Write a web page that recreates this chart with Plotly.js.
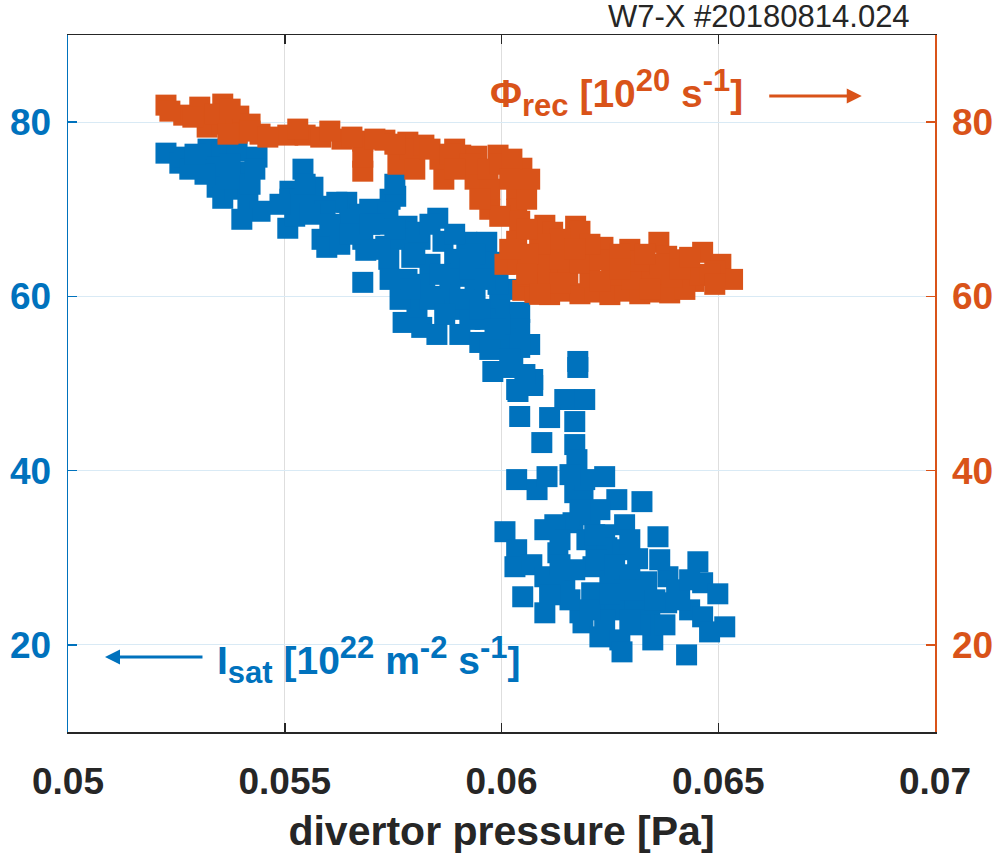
<!DOCTYPE html>
<html><head><meta charset="utf-8">
<script src="https://cdn.plot.ly/plotly-3.0.1.min.js"></script>
<style>html,body{margin:0;padding:0;background:#fff}#chart{width:996px;height:855px}</style>
</head><body><div id="chart"></div>
<script>
// divertor pressure [Pa] vs Isat [1e22 m^-2 s^-1] (left axis)
const pressureIsat = [
0.05226,0.05258,0.05267,0.05304,0.05323,0.05355,0.05344,0.05390,0.05436,0.05401,
0.05344,0.05357,0.05385,0.05415,0.05443,0.05401,0.05374,0.05512,0.05512,0.05542,
0.05565,0.05507,0.05523,0.05574,0.05586,0.05597,0.05632,0.05643,0.05620,0.05680,
0.05687,0.05743,0.05756,0.05726,0.05733,0.05782,0.05793,0.05673,0.05593,0.05535,
0.05696,0.05738,0.05708,0.05754,0.05650,0.05766,0.05812,0.05680,0.05627,0.05740,
0.05782,0.05807,0.05853,0.05865,0.05920,0.05966,0.05773,0.05816,0.05851,0.05904,
0.05950,0.05805,0.05862,0.05911,0.05973,0.05996,0.06042,0.06065,0.05980,0.06026,
0.06072,0.06035,0.05835,0.05892,0.05939,0.05892,0.05823,0.05962,0.06019,0.05927,
0.05881,0.05766,0.06042,0.06008,0.05992,0.05973,0.06042,0.06072,0.06038,0.06042,
0.06176,0.06176,0.06146,0.06192,0.06111,0.06169,0.06093,0.06169,0.06174,0.06035,
0.06082,0.06105,0.06238,0.06324,0.06266,0.06169,0.06188,0.06165,0.06238,0.06008,
0.06361,0.06035,0.06031,0.06070,0.06130,0.06100,0.06049,0.06100,0.06146,0.06197,
0.06243,0.06280,0.06314,0.06211,0.06208,0.06181,0.06188,0.06227,0.06273,0.06278,
0.06384,0.06404,0.06349,0.06434,0.06464,0.06453,0.06464,0.06499,0.06515,0.06480,
0.06427,0.06335,0.06381,0.06250,0.06296,0.06227,0.06261,0.06308,0.06342,0.06365,
0.06284,0.06319,0.06238,0.06158,0.06135,0.06204,0.06227,0.06123,0.06284,0.06192,
0.06158,0.06218,
0.05835,0.05892,0.05939,0.05800,0.05858,0.05927,0.05962,0.05835,0.05904,0.05869,
0.05996,0.05950,0.05789,0.05743,0.06019,0.05985,0.06054,
0.05558,0.05604,0.05650,0.05696,0.05547,0.05489,0.05754,0.05720,
0.05281,0.05316,0.05420,0.05431,0.05374,0.05293,
0.06261,0.06319,0.06354,0.06296,0.06204,0.06250,0.06169,0.06111,0.06215,0.06296,
0.06135,0.06411,0.06434,0.06377,0.06181,0.06100];
const isat = [
76.44,75.29,75.98,75.52,76.90,76.55,74.83,76.67,75.98,74.25,
72.53,71.26,72.30,71.15,69.77,68.85,73.45,72.07,71.15,74.60,
72.53,67.82,69.20,70.34,66.55,65.63,67.70,70.80,70.80,66.55,
65.29,71.15,71.49,69.66,65.75,68.05,64.48,69.43,69.77,71.15,
70.00,69.43,68.28,72.87,68.85,66.55,66.55,61.61,65.98,64.25,
61.95,67.36,68.97,66.32,66.21,66.21,57.01,56.44,55.63,55.63,
54.71,58.74,60.00,62.30,63.91,59.08,58.16,54.48,51.38,51.84,
50.46,49.31,63.68,64.25,60.80,58.51,61.38,57.36,60.80,57.36,
61.95,59.66,56.21,55.06,61.38,53.91,54.14,49.77,49.08,46.21,
51.84,52.53,48.16,48.16,46.09,45.63,43.22,42.99,41.26,38.97,
37.82,39.31,39.31,36.44,36.67,37.47,36.67,34.02,32.64,32.99,
32.41,30.92,28.97,29.20,30.57,27.82,25.52,23.68,27.13,32.07,
31.15,30.92,29.89,28.97,25.98,23.68,22.53,20.92,20.57,19.20,
27.82,26.32,20.57,24.02,23.22,29.54,27.13,25.86,22.07,21.49,
18.85,27.24,24.83,27.47,28.05,25.17,24.02,24.60,22.87,29.77,
26.32,22.30,22.87,25.17,29.20,34.94,35.52,33.79,33.79,38.97,
39.54,29.77,
68.28,67.13,64.83,64.83,62.53,63.10,61.95,59.66,59.66,57.93,
56.78,58.51,60.80,61.95,52.76,56.21,51.03,
69.43,68.28,67.13,68.28,72.87,70.57,67.70,65.40,
74.60,74.02,72.87,74.60,75.17,76.32,
29.20,26.32,25.17,22.87,24.02,25.86,28.62,25.75,32.64,32.07,
32.07,25.17,27.47,22.30,35.52,33.22];
// divertor pressure [Pa] vs Phi_rec [1e20 s^-1] (right axis)
const pressurePhi = [
0.05226,0.05267,0.05304,0.05357,0.05321,0.05394,0.05390,0.05443,0.05355,0.05420,
0.05507,0.05547,0.05583,0.05632,0.05680,0.05680,0.05680,0.05731,0.05761,0.05784,
0.05789,0.05821,0.05867,0.05858,0.05906,0.05943,0.05939,0.05992,0.05973,0.05973,
0.06047,0.06035,0.06035,0.05996,0.06042,0.06035,0.06008,0.06038,0.06049,0.06100,
0.06118,0.06171,0.06181,0.06234,0.06296,0.06363,0.06381,0.06464,0.06506,0.06533,
0.06444,0.06077,0.06111,0.06146,0.06181,0.06215,0.06250,0.06284,0.06319,0.06354,
0.06388,0.06423,0.06061,0.06107,0.06153,0.06204,0.06254,0.06301,0.06347,0.06393,
0.06457,0.06492,0.06088,0.06135,0.06181,0.06227,0.06273,0.06319,0.06365,0.06411,
0.06135,0.06204,0.06273,0.06088,0.06058,0.06065,0.06061,0.05800,0.05892,
0.05235,0.05288,0.05339,0.05374,0.05420,0.05461,0.05369,
0.05530,0.05604,0.05655,0.05708,0.05754,0.05835,0.05881,0.05927,0.05969,0.05996,
0.06024,0.05892,0.05950,0.06019,0.06058,0.06019,0.06058,
0.06227,0.06342,0.06135,0.06273,0.06411,0.06480,0.06169,0.06331,0.06434,0.06492,
0.06088];
const phiRec = [
81.95,80.80,81.72,82.07,79.43,80.69,78.73,78.62,79.77,79.77,
78.51,78.51,78.28,78.05,77.82,74.37,75.98,77.93,75.17,77.70,
76.90,77.36,73.45,75.75,76.21,76.09,73.45,76.21,70.00,72.30,
74.71,72.30,70.00,69.19,68.62,66.32,63.68,63.68,60.69,68.16,
67.36,68.05,67.47,65.63,65.40,66.21,64.60,65.06,63.68,61.95,
61.72,60.46,60.20,60.60,60.30,60.50,60.20,60.60,60.30,60.50,
60.40,60.80,62.30,62.10,62.50,62.20,62.40,62.00,62.60,62.20,
62.40,62.90,64.00,64.30,63.80,64.20,63.90,64.10,63.70,64.20,
66.55,65.98,64.83,65.98,71.15,73.45,64.83,74.60,76.90,
81.26,80.57,80.92,81.49,78.97,78.28,78.62,
79.20,78.97,78.28,78.05,77.47,76.90,76.32,75.17,74.60,75.17,
75.75,74.60,71.15,73.45,67.70,65.40,62.53,
61.72,60.80,61.49,63.10,63.10,62.53,65.40,64.83,64.48,61.38,
60.23];

const xTicks = [0.05,0.055,0.06,0.065,0.07];
const xTickLabels = ['0.05','0.055','0.06','0.065','0.07'];
const yTicks = [20,40,60,80];
const yTickLabels = ['20','40','60','80'];

const BLUE = '#0072BD', ORANGE = '#D95319', DARK = '#262626';
const FAM = "'Liberation Sans', Arial, Helvetica, sans-serif";
const S = (t) => "<span style='font-size:31px'>" + t + "</span>";

const traces = [
  {x: pressureIsat, y: isat, type: 'scatter', mode: 'markers', yaxis: 'y',
   marker: {symbol: 'square', size: 21, color: BLUE, line: {width: 0}}, hoverinfo: 'skip'},
  {x: pressurePhi, y: phiRec, type: 'scatter', mode: 'markers', yaxis: 'y2',
   marker: {symbol: 'square', size: 21, color: ORANGE, line: {width: 0}}, hoverinfo: 'skip'}
];

const layout = {
  width: 996, height: 855,
  margin: {l: 68, r: 61, t: 35, b: 123, pad: 0},
  paper_bgcolor: '#fff', plot_bgcolor: '#fff',
  showlegend: false,
  font: {family: FAM},
  xaxis: {
    range: [0.05, 0.07], tickvals: xTicks, ticktext: xTickLabels,
    showline: true, linecolor: DARK, linewidth: 1.5, mirror: 'ticks',
    ticks: 'inside', ticklen: 9, tickwidth: 1.5, tickcolor: DARK,
    showgrid: true, gridcolor: '#DEDEDE', gridwidth: 1, zeroline: false,
    tickfont: {family: FAM, size: 37, color: DARK, weight: 'bold'},
    ticklabelstandoff: 16,
    title: {text: 'divertor pressure [Pa]', font: {family: FAM, size: 41, color: DARK, weight: 'bold'}, standoff: 15},
    automargin: false
  },
  yaxis: {
    range: [10, 90], tickvals: yTicks, ticktext: yTickLabels,
    showline: true, linecolor: BLUE, linewidth: 1.5,
    ticks: 'inside', ticklen: 9, tickwidth: 1.5, tickcolor: BLUE,
    showgrid: true, gridcolor: '#D9EAF5', gridwidth: 1, zeroline: false,
    tickfont: {family: FAM, size: 37, color: BLUE, weight: 'bold'},
    ticklabelstandoff: 8, automargin: false
  },
  yaxis2: {
    range: [10, 90], tickvals: yTicks, ticktext: yTickLabels,
    overlaying: 'y', side: 'right',
    showline: true, linecolor: ORANGE, linewidth: 1.5,
    ticks: 'inside', ticklen: 9, tickwidth: 1.5, tickcolor: ORANGE,
    showgrid: false, zeroline: false,
    tickfont: {family: FAM, size: 37, color: ORANGE, weight: 'bold'},
    ticklabelstandoff: 8, automargin: false
  },
  annotations: [
    {xref: 'paper', yref: 'paper', x: 0.9735, y: 1.026, xanchor: 'right', yanchor: 'middle',
     text: 'W7-X #20180814.024', showarrow: false, font: {family: FAM, size: 31, color: DARK}},
    {xref: 'x', yref: 'y', x: 0.05969, y: 83.3, xanchor: 'left', yanchor: 'middle',
     text: 'Φ<sub>' + S('rec') + '</sub> [10<sup>' + S('20') + '</sup> s<sup>' + S('-1') + '</sup>]', showarrow: false,
     font: {family: FAM, size: 39, color: ORANGE, weight: 'bold'}},
    {xref: 'x', yref: 'y', x: 0.06831, y: 82.99, ax: -94, ay: 0, text: '',
     showarrow: true, arrowhead: 2, arrowsize: 1, arrowwidth: 3, arrowcolor: ORANGE},
    {xref: 'x', yref: 'y', x: 0.05339, y: 18.3, xanchor: 'left', yanchor: 'middle',
     text: 'I<sub>' + S('sat') + '</sub> [10<sup>' + S('22') + '</sup> m<sup>' + S('-2') + '</sup> s<sup>' + S('-1') + '</sup>]', showarrow: false,
     font: {family: FAM, size: 39, color: BLUE, weight: 'bold'}},
    {xref: 'x', yref: 'y', x: 0.050853, y: 18.62, ax: 99, ay: 0, text: '',
     showarrow: true, arrowhead: 2, arrowsize: 1, arrowwidth: 3, arrowcolor: BLUE}
  ]
};

Plotly.newPlot('chart', traces, layout, {displayModeBar: false, staticPlot: true});
</script>
</body></html>
